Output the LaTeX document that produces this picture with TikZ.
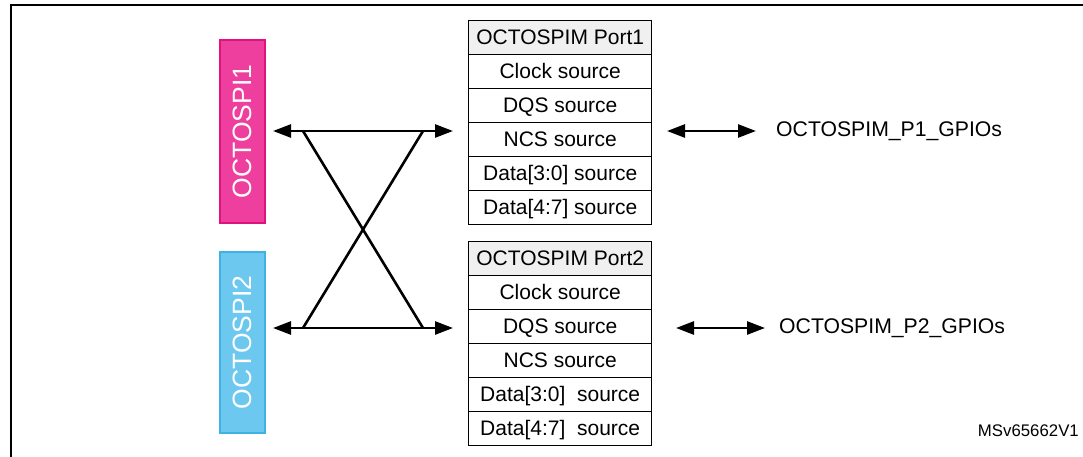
\documentclass[tikz,border=0pt]{standalone}
\usepackage{fontspec}
\setmainfont{Liberation Sans}
\usetikzlibrary{arrows.meta}
\definecolor{pinkfill}{HTML}{EE3F9E}
\definecolor{pinkline}{HTML}{E0127F}
\definecolor{bluefill}{HTML}{6CC8EE}
\definecolor{blueline}{HTML}{3DB3E4}
\definecolor{headfill}{HTML}{F0F0F0}
\begin{document}
\begin{tikzpicture}[x=1pt,y=-1pt,
 cell/.style={draw, line width=1.4pt, minimum width=183pt, minimum height=34pt, inner sep=0pt,
   text height=16.5pt, text depth=2pt,
   font=\fontsize{21}{22}\selectfont, anchor=north west},
 head/.style={cell, fill=headfill},
 bar/.style={rotate=90, minimum width=183pt, minimum height=45pt, inner sep=0pt, line width=1.2pt,
   text=white, font=\fontsize{26.5}{28}\selectfont},
 link/.style={line width=2.6pt, {Triangle[length=18pt,width=13pt]}-{Triangle[length=18pt,width=13pt]}},
 cross/.style={line width=2.6pt},
 lbl/.style={font=\fontsize{21.2}{23}\selectfont, anchor=west, inner sep=0pt},
 tag/.style={font=\fontsize{16.8}{18}\selectfont, anchor=east, inner sep=0pt}]
\useasboundingbox (0,0) rectangle (1083,457);
\draw[line width=1.6pt] (11,457) -- (11,5) -- (1083,5);

% left blocks
\node[bar, fill=pinkfill, draw=pinkline] (o1) at (242.5,131.5) {OCTOSPI1};
\node[bar, fill=bluefill, draw=blueline, minimum width=181pt] (o2) at (242.5,342.5) {OCTOSPI2};

% port 1 table
\node[head] (p1h) at (468,20) {OCTOSPIM Port1};
\node[cell] (p1a) at (468,54) {Clock source};
\node[cell] (p1b) at (468,88) {DQS source};
\node[cell] (p1c) at (468,122) {NCS source};
\node[cell] (p1d) at (468,156) {Data[3:0] source};
\node[cell] (p1e) at (468,190) {Data[4:7] source};

% port 2 table
\node[head] (p2h) at (468,241) {OCTOSPIM Port2};
\node[cell] (p2a) at (468,275) {Clock source};
\node[cell] (p2b) at (468,309) {DQS source};
\node[cell] (p2c) at (468,343) {NCS source};
\node[cell] (p2d) at (468,377) {Data[3:0]\ \ source};
\node[cell] (p2e) at (468,411) {Data[4:7]\ \ source};

% crossbar
\coordinate (l1) at (273,131);
\coordinate (r1) at (453,131);
\coordinate (l2) at (273,328);
\coordinate (r2) at (453,328);
\coordinate (a1) at (303,131);
\coordinate (b1) at (423,131);
\coordinate (a2) at (303,328);
\coordinate (b2) at (423,328);
\draw[link] (l1) -- (r1);
\draw[link] (l2) -- (r2);
\draw[cross] (a1) -- (b2);
\draw[cross] (b1) -- (a2);

% GPIO links
\node[lbl] (g1) at (776,131) {OCTOSPIM\_P1\_GPIOs};
\node[lbl] (g2) at (779,328) {OCTOSPIM\_P2\_GPIOs};
\coordinate (g1s) at (667,131);
\coordinate (g1e) at (756,131);
\coordinate (g2s) at (676,328);
\coordinate (g2e) at (765,328);
\draw[link] (g1s) -- (g1e);
\draw[link] (g2s) -- (g2e);

\node[tag] (id) at (1079,431) {MSv65662V1};
\end{tikzpicture}
\end{document}
